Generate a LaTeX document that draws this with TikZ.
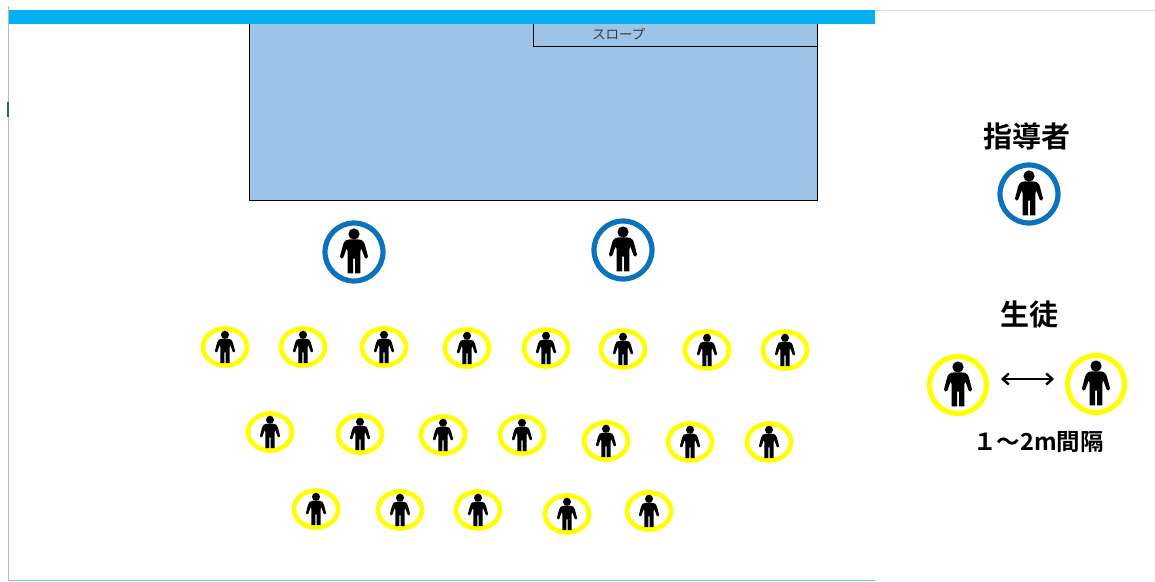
\documentclass[tikz,border=0pt]{standalone}
\usepackage{fontspec}
\setmainfont{Noto Sans CJK JP}
\newfontfamily\headfont[BoldFont={* Bold}]{Noto Sans CJK JP}
\usetikzlibrary{arrows.meta, shapes.geometric, positioning}
\tikzset{every node/.append style={align=center}}
\usepackage{xcolor}
\definecolor{bandcol}{RGB}{0,176,240}
\definecolor{poolcol}{RGB}{157,195,230}
\definecolor{teachcol}{RGB}{11,114,190}
\definecolor{studcol}{RGB}{255,255,0}
\definecolor{rulecol}{RGB}{185,185,185}
\definecolor{tickcol}{RGB}{33,115,70}
\definecolor{slopetext}{RGB}{60,60,60}

\begin{document}
\begin{tikzpicture}[
  x=1pt, y=-1pt,
  teacher/.style={circle, draw=teachcol, line width=5.2pt, minimum size=58pt, inner sep=0pt},
  student/.style={ellipse, draw=studcol, line width=4.7pt, minimum width=44pt, minimum height=37pt, inner sep=0pt},
  legendstud/.style={circle, draw=studcol, line width=5.2pt, minimum size=57pt, inner sep=0pt},
  pool/.style={rectangle, draw=black, fill=poolcol, line width=0.8pt, inner sep=0pt},
  heading/.style={font=\headfont\fontsize{29}{29}\selectfont\bfseries, inner sep=0pt},
  person/.pic={
    \fill[black] (0,-18) circle (5.6);
    \fill[black]
      (-4,-12.6) .. controls (-8,-12.6) and (-10.2,-10.5) .. (-11,-7)
      -- (-14,4.5) .. controls (-14.4,6.8) and (-11.2,7.4) .. (-10.6,5.4)
      -- (-7.4,-3.5) -- (-6.4,-1) -- (-6.4,21.3) -- (-1,21.3) -- (-1,6.5)
      -- (1,6.5) -- (1,21.3) -- (6.4,21.3) -- (6.4,-1) -- (7.4,-3.5)
      -- (10.6,5.4) .. controls (11.2,7.4) and (14.4,6.8) .. (14,4.5)
      -- (11,-7) .. controls (10.2,-10.5) and (8,-12.6) .. (4,-12.6) -- cycle;
  }
]
\useasboundingbox (0,0) rectangle (1155,581);

% Frame lines
\fill[rulecol] (7.5,6) rectangle (9,581);
\fill[tickcol] (7,102) rectangle (9,117);
\fill[black!12] (875,10) rectangle (1155,11);
\fill[cyan!60] (9,579.5) rectangle (875,581);

% Pool and slope
\node[pool, minimum width=568pt, minimum height=178pt] (pool) at (533.2,111.5) {};
\node[pool, minimum width=284pt, minimum height=24pt, font=\fontsize{13.5}{14}\selectfont\color{slopetext}]
      (slope) at (675.6,34.5) {\raisebox{-1pt}{\hspace*{-114pt}スロープ}};

% Top band
\fill[bandcol] (9,10) rectangle (875,23.5);

% Teachers
\foreach \n/\x/\y in {t1/354/252, t2/623/250, t3/1029/194} {
  \node[teacher] (\n) at (\x,\y) {};
  \pic at (\n) {person};
}

% Students
\foreach \n/\x/\y in {s1/225/347, s2/303/347, s3/384/347, s4/467/348, s5/546/348,
                      s6/623/349, s7/707/350, s8/785/350,
                      s9/270/432, s10/360/434, s11/443/435, s12/522/435,
                      s13/606/441, s14/690/442, s15/769/442,
                      s16/316/509, s17/400/510, s18/478/510, s19/567/514, s20/649/511} {
  \node[student] (\n) at (\x,\y) {};
  \pic[scale=0.72, yshift=-1pt] at (\n) {person};
}

% Legend
\node[heading] (lead) at (1027,136) {指導者};
\node[heading] (pupil) at (1029.5,315) {生徒};
\node[legendstud] (l1) at (958,385) {};
\pic at (l1) {person};
\node[legendstud] (l2) at (1096,384) {};
\pic at (l2) {person};
\coordinate (gapl) at (1001,379);
\coordinate (gapr) at (1054,379);
\draw[{Straight Barb[length=6pt,width=11pt]}-{Straight Barb[length=6pt,width=11pt]}, line width=2.4pt] (gapl) -- (gapr);
\node[font=\headfont\fontsize{23.5}{24}\selectfont\bfseries, inner sep=0pt] (gap) at (1038.5,442) {１～2m間隔};

\end{tikzpicture}
\end{document}
